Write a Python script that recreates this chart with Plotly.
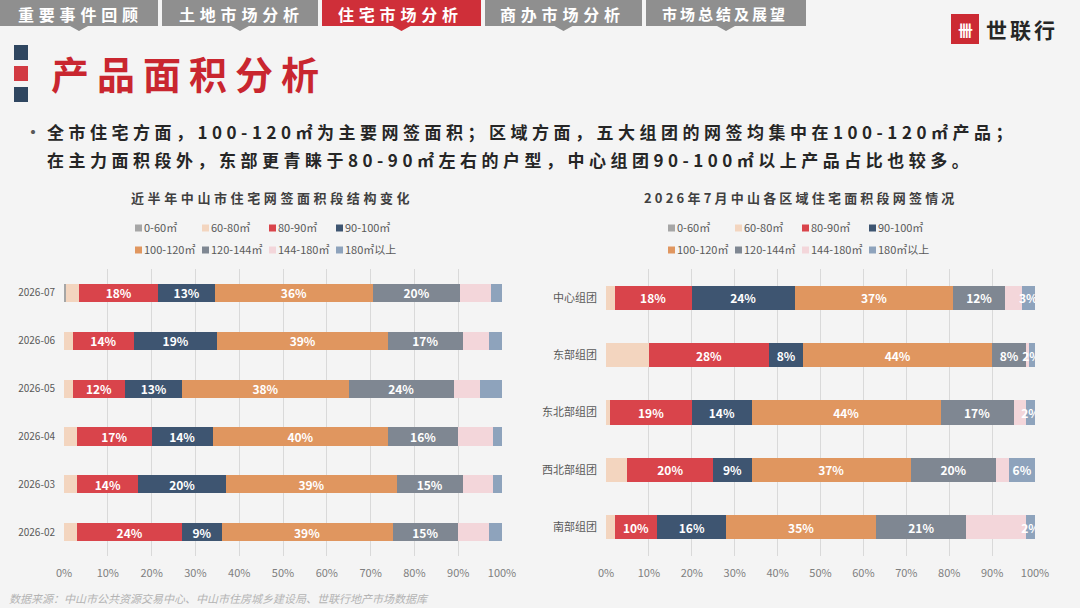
import json
import plotly.graph_objects as go

W, H = 1080, 608
FONT = "Noto Sans CJK SC"

# ---------------- data ----------------
segments = ["0-60㎡", "60-80㎡", "80-90㎡", "90-100㎡", "100-120㎡", "120-144㎡", "144-180㎡", "180㎡以上"]
seg_colors = ["#a6a6a6", "#f3d5bf", "#d9444b", "#3e5571", "#e0965f", "#7f8792", "#f3d6da", "#8ea3bc"]

months = ["2026-07", "2026-06", "2026-05", "2026-04", "2026-03", "2026-02"]
month_0_60 = [0.5, 0, 0, 0, 0, 0]
month_60_80 = [3, 2, 2, 3, 3, 3]
month_80_90 = [18, 14, 12, 17, 14, 24]
month_90_100 = [13, 19, 13, 14, 20, 9]
month_100_120 = [36, 39, 38, 40, 39, 39]
month_120_144 = [20, 17, 24, 16, 15, 15]
month_144_180 = [7, 6, 6, 8, 7, 7]
month_180_up = [2.5, 3, 5, 2, 2, 3]

regions = ["中心组团", "东部组团", "东北部组团", "西北部组团", "南部组团"]
region_0_60 = [0, 0, 0, 0, 0]
region_60_80 = [2, 10, 1, 5, 2]
region_80_90 = [18, 28, 19, 20, 10]
region_90_100 = [24, 8, 14, 9, 16]
region_100_120 = [37, 44, 44, 37, 35]
region_120_144 = [12, 8, 17, 20, 21]
region_144_180 = [4, 0.5, 3, 3, 14]
region_180_up = [3, 1.5, 2, 6, 2]

x_ticks = [0, 10, 20, 30, 40, 50, 60, 70, 80, 90, 100]

tabs = ["重要事件回顾", "土地市场分析", "住宅市场分析", "商办市场分析", "市场总结及展望"]
active_tab = 2
page_title = "产品面积分析"
bullet_line1 = "全市住宅方面，100-120㎡为主要网签面积；区域方面，五大组团的网签均集中在100-120㎡产品；"
bullet_line2 = "在主力面积段外，东部更青睐于80-90㎡左右的户型，中心组团90-100㎡以上产品占比也较多。"
left_title = "近半年中山市住宅网签面积段结构变化"
right_title = "2026年7月中山各区域住宅面积段网签情况"
source_note = "数据来源：中山市公共资源交易中心、中山市住房城乡建设局、世联行地产市场数据库"
brand = "世联行"

month_series = [month_0_60, month_60_80, month_80_90, month_90_100,
                month_100_120, month_120_144, month_144_180, month_180_up]
region_series = [region_0_60, region_60_80, region_80_90, region_90_100,
                 region_100_120, region_120_144, region_144_180, region_180_up]
left_labelled = {2, 3, 4, 5}
right_labelled = {2, 3, 4, 5, 7}


def px(x):
    return x / W


def py(y):
    return 1 - y / H


fig = go.Figure()


def add_bars(series, cats, width, labelled, xa, ya, leg_a, leg_b):
    for i, (name, vals) in enumerate(zip(segments, series)):
        fig.add_trace(go.Bar(
            x=vals, y=cats, orientation="h", name=name,
            marker=dict(color=seg_colors[i], line=dict(width=0)),
            width=width,
            text=[f"{v:.0f}%" if i in labelled else "" for v in vals],
            textposition="inside", insidetextanchor="middle", textangle=0,
            constraintext="none",
            textfont=dict(family=FONT, size=12, color="white", weight="bold"),
            xaxis=xa, yaxis=ya,
            legend=leg_a if i < 4 else leg_b,
            hovertemplate="%{y} " + name + ": %{x}%<extra></extra>",
        ))
    # empty spacer entries so the last legend column is not clipped
    for leg in (leg_a, leg_b):
        fig.add_trace(go.Bar(
            x=[None], y=[None], name=" ", orientation="h",
            marker=dict(color="rgba(0,0,0,0)",
                        line=dict(width=0, color="rgba(0,0,0,0)")),
            xaxis=xa, yaxis=ya,
            legend=leg, showlegend=True, hoverinfo="skip",
        ))


add_bars(month_series, months, 0.38, left_labelled, "x", "y", "legend", "legend2")
add_bars(region_series, regions, 0.42, right_labelled, "x2", "y2", "legend3", "legend4")

y_dom = [py(556), py(269)]
axis_common = dict(
    range=[0, 100], tickvals=x_ticks, ticktext=[f"{t}%" for t in x_ticks],
    showgrid=True, gridcolor="#d9d9d9", gridwidth=1, zeroline=False,
    showline=False, ticks="", tickfont=dict(family=FONT, size=11, color="#7f7f7f"),
    ticklabelstandoff=9, fixedrange=True, automargin=False,
)
yaxis_common = dict(
    type="category", autorange="reversed", showgrid=False, zeroline=False,
    showline=False, ticks="", fixedrange=True, automargin=False,
)

legend_common = dict(
    orientation="h", xanchor="left", yanchor="middle",
    font=dict(family=FONT, size=11, color="#595959"),
    bgcolor="rgba(0,0,0,0)", entrywidth=22, entrywidthmode="pixels",
    traceorder="normal", itemclick=False, itemdoubleclick=False,
)

# ---------------- decorations ----------------
shapes = []
tab_edges = [(0, 158), (162, 318), (322, 481), (485, 642), (646, 806)]
for k, (x0, x1) in enumerate(tab_edges):
    xc = (x0 + x1) / 2
    col = "#cf2f39" if k == active_tab else "#8f8f8f"
    path = (f"M {px(x0)},{py(0)} L {px(x1)},{py(0)} L {px(x1)},{py(26)} "
            f"L {px(xc + 9)},{py(26)} L {px(xc)},{py(31)} L {px(xc - 9)},{py(26)} "
            f"L {px(x0)},{py(26)} Z")
    shapes.append(dict(type="path", path=path, xref="paper", yref="paper",
                       fillcolor=col, line=dict(width=0), layer="above"))

shapes.append(dict(type="rect", xref="paper", yref="paper",
                   x0=px(951), x1=px(979), y0=py(44), y1=py(14),
                   fillcolor="#cc2a33", line=dict(width=0)))
for (y0, y1, c) in [(45, 60, "#2f4660"), (66, 81, "#d23a42"), (87, 102, "#2f4660")]:
    shapes.append(dict(type="rect", xref="paper", yref="paper",
                       x0=px(14), x1=px(28), y0=py(y1), y1=py(y0),
                       fillcolor=c, line=dict(width=0)))

annotations = []
letter_spacing = {}


def add_text(text, x, y, size, color, weight="normal", xanchor="left",
             style="normal", ls=None):
    annotations.append(dict(
        text=text, x=px(x), y=py(y), xref="paper", yref="paper",
        xanchor=xanchor, yanchor="middle", showarrow=False, borderpad=0,
        align="left" if xanchor == "left" else "center",
        font=dict(family=FONT, size=size, color=color, weight=weight, style=style),
    ))
    if ls is not None:
        letter_spacing[text] = ls


tab_text_x = [17, 178, 337, 499, 661]
for k, t in enumerate(tabs):
    if k < 4:
        add_text(t, tab_text_x[k], 14, 16, "white", "bold", ls=4.8)
    else:
        add_text(t, tab_text_x[k], 14, 15, "white", "bold", ls=3)

add_text(brand, 985, 29, 21, "#262626", "bold", ls=3)
add_text("卌", 965, 29, 15, "white", "bold", xanchor="center")
add_text(page_title, 50, 73, 38, "#c9262f", "bold", ls=8)
add_text("•", 33, 131, 16, "#595959", "bold", xanchor="center")
add_text(bullet_line1, 46, 131, 17, "#262626", "bold", ls=4.5)
add_text(bullet_line2, 46, 160, 17, "#262626", "bold", ls=4.5)
add_text(left_title, 130, 197, 13, "#404040", "bold", ls=3.6)
add_text(right_title, 643, 197, 13, "#404040", "bold", ls=3.2)
add_text(source_note, 8, 598, 11, "#b3b3b3", style="italic")

fig.update_layout(
    width=W, height=H, autosize=False,
    margin=dict(l=0, r=0, t=0, b=0, autoexpand=False),
    paper_bgcolor="#f4f4f4", plot_bgcolor="rgba(0,0,0,0)",
    barmode="stack",
    font=dict(family=FONT, color="#595959"),
    xaxis=dict(domain=[px(64), px(502)], anchor="y", **axis_common),
    yaxis=dict(domain=y_dom, anchor="x", categoryorder="array",
               categoryarray=months, ticklabelstandoff=8,
               tickfont=dict(family=FONT, size=10, color="#595959"), **yaxis_common),
    xaxis2=dict(domain=[px(606), px(1035)], anchor="y2", **axis_common),
    yaxis2=dict(domain=y_dom, anchor="x2", categoryorder="array",
                categoryarray=regions, ticklabelstandoff=8,
                tickfont=dict(family=FONT, size=11, color="#595959"), **yaxis_common),
    legend=dict(x=px(104), y=py(228), **legend_common),
    legend2=dict(x=px(104), y=py(250), **legend_common),
    legend3=dict(x=px(637), y=py(228), **legend_common),
    legend4=dict(x=px(637), y=py(250), **legend_common),
    uniformtext=dict(minsize=11, mode="show"),
    shapes=shapes,
    annotations=annotations,
    showlegend=True,
)

post = """
document.body.style.margin = '0';
document.body.style.overflow = 'hidden';
var st = document.createElement('style');
st.textContent = '.legendpoints path{d:path("M11,3.5H18V-3.5H11Z");}';
document.head.appendChild(st);
var gd = document.getElementById('{plot_id}');
var LS = %s;
function applyLS() {
  gd.querySelectorAll('text.annotation-text').forEach(function (t) {
    var k = t.getAttribute('data-unformatted');
    if (LS[k] !== undefined) { t.style.letterSpacing = LS[k] + 'px'; }
  });
}
applyLS();
gd.on('plotly_afterplot', applyLS);
""" % json.dumps(letter_spacing, ensure_ascii=False)

fig.write_html("out.html", include_plotlyjs=True, post_script=post,
               config={"displayModeBar": False, "responsive": False})
